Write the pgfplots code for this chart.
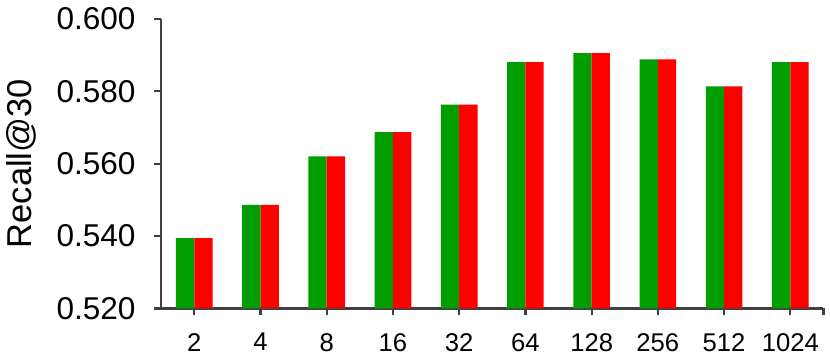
\documentclass[border=0pt]{standalone}
\usepackage{fontspec}
\setmainfont{Liberation Sans}
\usepackage{pgfplots}
\pgfplotsset{compat=1.18}

\definecolor{bargreen}{RGB}{0,158,0}
\definecolor{barred}{RGB}{255,0,0}
\definecolor{axisgray}{RGB}{64,64,64}

\begin{document}
\begin{tikzpicture}
\begin{axis}[
    scale only axis,
    width=336pt, height=147pt,
    ybar=0pt, bar width=9.3pt,
    xmin=-0.5, xmax=9.5,
    ymin=0.52, ymax=0.60,
    ytick={0.52,0.54,0.56,0.58,0.60},
    xtick={0,...,9},
    xticklabels={2,4,8,16,32,64,128,256,512,1024},
    extra x ticks={9.5}, extra x tick labels={},
    axis x line*=bottom, axis y line*=left,
    every outer x axis line/.append style={draw=axisgray, line width=1.1pt},
    every outer y axis line/.append style={draw=axisgray, line width=1.1pt},
    every tick/.append style={draw=axisgray, line width=1.1pt},
    tick align=outside, major tick length=3.5pt,
    /pgf/number format/assume math mode=true,
    yticklabel style={/pgf/number format/fixed, /pgf/number format/fixed zerofill,
        /pgf/number format/precision=3, font=\fontsize{16}{16}\selectfont, xshift=-6pt},
    xticklabel style={font=\fontsize{13}{13}\selectfont, yshift=-5.5pt},
    scaled y ticks=false,
    every axis y label/.style={at={(axis description cs:-0.211,0.5)}, rotate=90,
        anchor=center, font=\fontsize{17.5}{17.5}\selectfont},
    ylabel={Recall@30},
    clip=true,
]
\addplot[fill=bargreen, draw=none] coordinates {
    (0,0.5394) (1,0.5486) (2,0.5620) (3,0.5687) (4,0.5763)
    (5,0.5880) (6,0.5905) (7,0.5888) (8,0.5813) (9,0.5880)
};
\addplot[fill=barred, draw=none] coordinates {
    (0,0.5394) (1,0.5486) (2,0.5620) (3,0.5687) (4,0.5763)
    (5,0.5880) (6,0.5905) (7,0.5888) (8,0.5813) (9,0.5880)
};
\end{axis}
\path (-78pt,-23.5pt) rectangle (337pt,156.5pt);
\end{tikzpicture}
\end{document}
